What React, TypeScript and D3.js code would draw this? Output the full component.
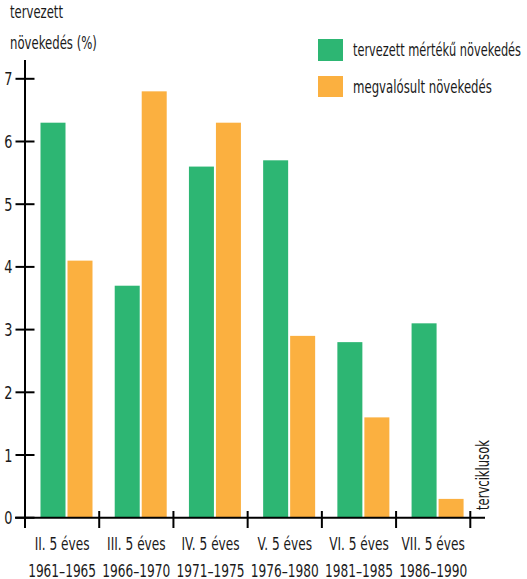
import React, { useLayoutEffect, useRef, useState } from "react";
import * as d3 from "d3";

const categories = ["II. 5 éves", "III. 5 éves", "IV. 5 éves", "V. 5 éves", "VI. 5 éves", "VII. 5 éves"];
const periods = ["1961–1965", "1966–1970", "1971–1975", "1976–1980", "1981–1985", "1986–1990"];
const planned = [6.3, 3.7, 5.6, 5.7, 2.8, 3.1];
const actual = [4.1, 6.8, 6.3, 2.9, 1.6, 0.3];
const yTicks = [0, 1, 2, 3, 4, 5, 6, 7];
const seriesNames = ["tervezett mértékű növekedés", "megvalósult növekedés"];
const yTitle = ["tervezett", "növekedés (%)"];
const xTitle = "tervciklusok";

const GREEN = "#2db673";
const ORANGE = "#fbb040";
const FONT = "'DejaVu Sans', sans-serif";
const FS = 17;

// Text squeezed horizontally to a target width (condensed look)
function FitText({ x, y, anchor = "start", size = FS, rot = 0, len, k, children }: any) {
  const ref = useRef<SVGTextElement>(null);
  const [s, setS] = useState(len ? 0.72 : k);
  useLayoutEffect(() => {
    if (len && ref.current) {
      const w = ref.current.getComputedTextLength();
      if (w > 0) setS(len / w);
    } else {
      setS(k);
    }
  }, [len, k]);
  return (
    <text
      ref={ref}
      transform={`translate(${x},${y}) rotate(${rot}) scale(${s},1)`}
      textAnchor={anchor}
      fontSize={size}
      fill="#1a1a1a"
    >
      {children}
    </text>
  );
}

export default function App() {
  const W = 527, H = 579;
  const x0 = 25, x1 = 470.3;
  const y = d3.scaleLinear().domain([0, 7]).range([517.7, 78.8]);
  const x = d3.scaleBand().domain(categories).range([x0, x1]).padding(0);
  const bw = x.bandwidth();
  const barW = 25;
  const offG = 15.5;
  const offO = offG + barW + 2;

  const measRef = useRef<SVGTextElement>(null);
  const [k, setK] = useState(0.72);
  useLayoutEffect(() => {
    if (measRef.current) {
      const w = measRef.current.getComputedTextLength();
      if (w > 0) setK(68 / w);
    }
  }, []);

  return (
    <svg width={W} height={H} style={{ position: "absolute", left: 0, top: 0, background: "#fff" }} fontFamily={FONT}>
      <text ref={measRef} x={-1000} y={-1000} fontSize={FS} visibility="hidden">{periods[0]}</text>
      {/* bars */}
      {categories.map((c, i) => (
        <g key={c}>
          <rect x={x(c)! + offG} y={y(planned[i])} width={barW} height={y(0) - y(planned[i])} fill={GREEN} />
          <rect x={x(c)! + offO} y={y(actual[i])} width={barW} height={y(0) - y(actual[i])} fill={ORANGE} />
        </g>
      ))}
      {/* y axis */}
      <line x1={x0} x2={x0} y1={60} y2={527} stroke="#000" strokeWidth={2} />
      {yTicks.map((t) => (
        <g key={t}>
          <line x1={15.5} x2={34.5} y1={y(t)} y2={y(t)} stroke="#000" strokeWidth={2} />
          <FitText x={12.5} y={y(t) + 6.5} anchor="end" size={18} k={k}>{t}</FitText>
        </g>
      ))}
      {/* x axis */}
      <line x1={15} x2={485} y1={y(0)} y2={y(0)} stroke="#000" strokeWidth={2} />
      {d3.range(categories.length + 1).map((i) => (
        <line key={i} x1={x0 + i * bw} x2={x0 + i * bw} y1={511} y2={528} stroke="#000" strokeWidth={2} />
      ))}
      {categories.map((c, i) => (
        <g key={c}>
          <FitText x={x(c)! + bw / 2} y={550} anchor="middle" k={k}>{c}</FitText>
          <FitText x={x(c)! + bw / 2} y={577} anchor="middle" k={k}>{periods[i]}</FitText>
        </g>
      ))}
      {/* titles */}
      <FitText x={10} y={18} len={53} k={k}>{yTitle[0]}</FitText>
      <FitText x={10} y={49} len={87} k={k}>{yTitle[1]}</FitText>
      <FitText x={489} y={510} rot={-90} len={70} k={k}>{xTitle}</FitText>
      {/* legend */}
      <rect x={318} y={39} width={25} height={22} fill={GREEN} />
      <FitText x={353} y={56} len={168} k={k}>{seriesNames[0]}</FitText>
      <rect x={318} y={76} width={25} height={21} fill={ORANGE} />
      <FitText x={353} y={93} len={139} k={k}>{seriesNames[1]}</FitText>
    </svg>
  );
}
